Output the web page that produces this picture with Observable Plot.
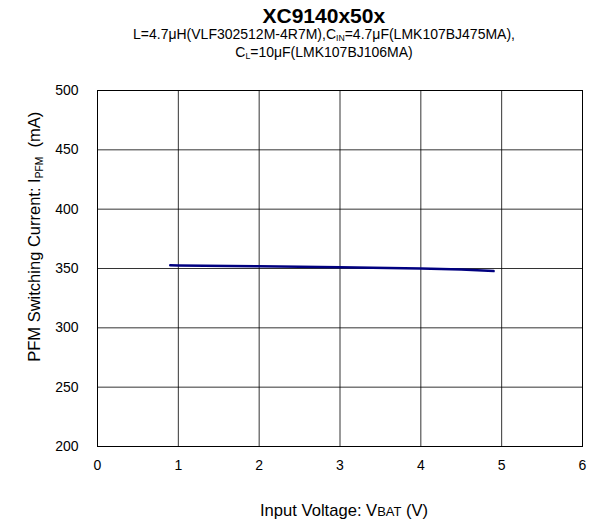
<!DOCTYPE html>
<html><head><meta charset="utf-8">
<script src="https://cdn.jsdelivr.net/npm/d3@7"></script>
<script src="https://cdn.jsdelivr.net/npm/@observablehq/plot@0.6"></script>
<style>
body{margin:0;background:#fff;font-family:Arial,"Liberation Sans",sans-serif}
#wrap{position:relative;width:596px;height:522px;overflow:hidden}
.t{position:absolute;color:#000;white-space:nowrap;text-align:center}
.sub{font-size:0.62em;vertical-align:-0.25em}
.sc{font-size:0.78em}
</style></head><body><div id="wrap"></div>
<script>
const vbat = [0.9, 1, 2, 3, 4, 4.5, 4.9];
const ipfm = [352.7, 352.6, 351.8, 351.0, 350.1, 349.2, 347.8];
const xTicks = [0, 1, 2, 3, 4, 5, 6];
const yTicks = [200, 250, 300, 350, 400, 450, 500];

const data = vbat.map((v, i) => ({v, i: ipfm[i]}));

const chart = Plot.plot({
  width: 596,
  height: 522,
  marginTop: 90,
  marginBottom: 76,
  marginLeft: 97,
  marginRight: 14,
  style: {fontFamily: "Arial, 'Liberation Sans', sans-serif", fontSize: "14px", color: "#000", background: "#fff"},
  x: {domain: [0, 6], ticks: xTicks, tickSize: 0, tickPadding: 14, label: null},
  y: {domain: [200, 500], ticks: yTicks, tickSize: 0, tickPadding: 19, label: null},
  marks: [
    Plot.gridX(xTicks, {stroke: "#000", strokeOpacity: 0.8, strokeWidth: 1}),
    Plot.gridY(yTicks, {stroke: "#000", strokeOpacity: 0.8, strokeWidth: 1}),
    Plot.frame({stroke: "#000", strokeWidth: 1}),
    Plot.line(data, {x: "v", y: "i", stroke: "#000080", strokeWidth: 2.5}),
    Plot.axisX({ticks: xTicks, tickFormat: "d", tickSize: 0, tickPadding: 14, fontSize: 14}),
    Plot.axisY({ticks: yTicks, tickFormat: "d", tickSize: 0, tickPadding: 19, fontSize: 14})
  ]
});
const wrap = document.getElementById("wrap");
wrap.appendChild(chart);

function addText(html, cx, cy, css, rotate) {
  const d = document.createElement("div");
  d.className = "t";
  d.innerHTML = html;
  Object.assign(d.style, css);
  wrap.appendChild(d);
  const w = d.offsetWidth, h = d.offsetHeight;
  d.style.left = (cx - w / 2) + "px";
  d.style.top = (cy - h / 2) + "px";
  if (rotate) d.style.transform = "rotate(-90deg)";
}
addText("XC9140x50x", 324, 16, {fontSize: "21px", fontWeight: "bold"});
addText('L=4.7μH(VLF302512M-4R7M),C<span class="sub">IN</span>=4.7μF(LMK107BJ475MA),<br>C<span class="sub">L</span>=10μF(LMK107BJ106MA)', 324, 45, {fontSize: "14px", lineHeight: "14px"});
addText('PFM Switching Current: I<span class="sub">PFM</span>&nbsp;&nbsp;(mA)', 35, 237, {fontSize: "16.5px"}, true);
addText('Input Voltage: V<span class="sc">BAT</span> (V)', 344, 511, {fontSize: "16.6px"});
</script></body></html>
